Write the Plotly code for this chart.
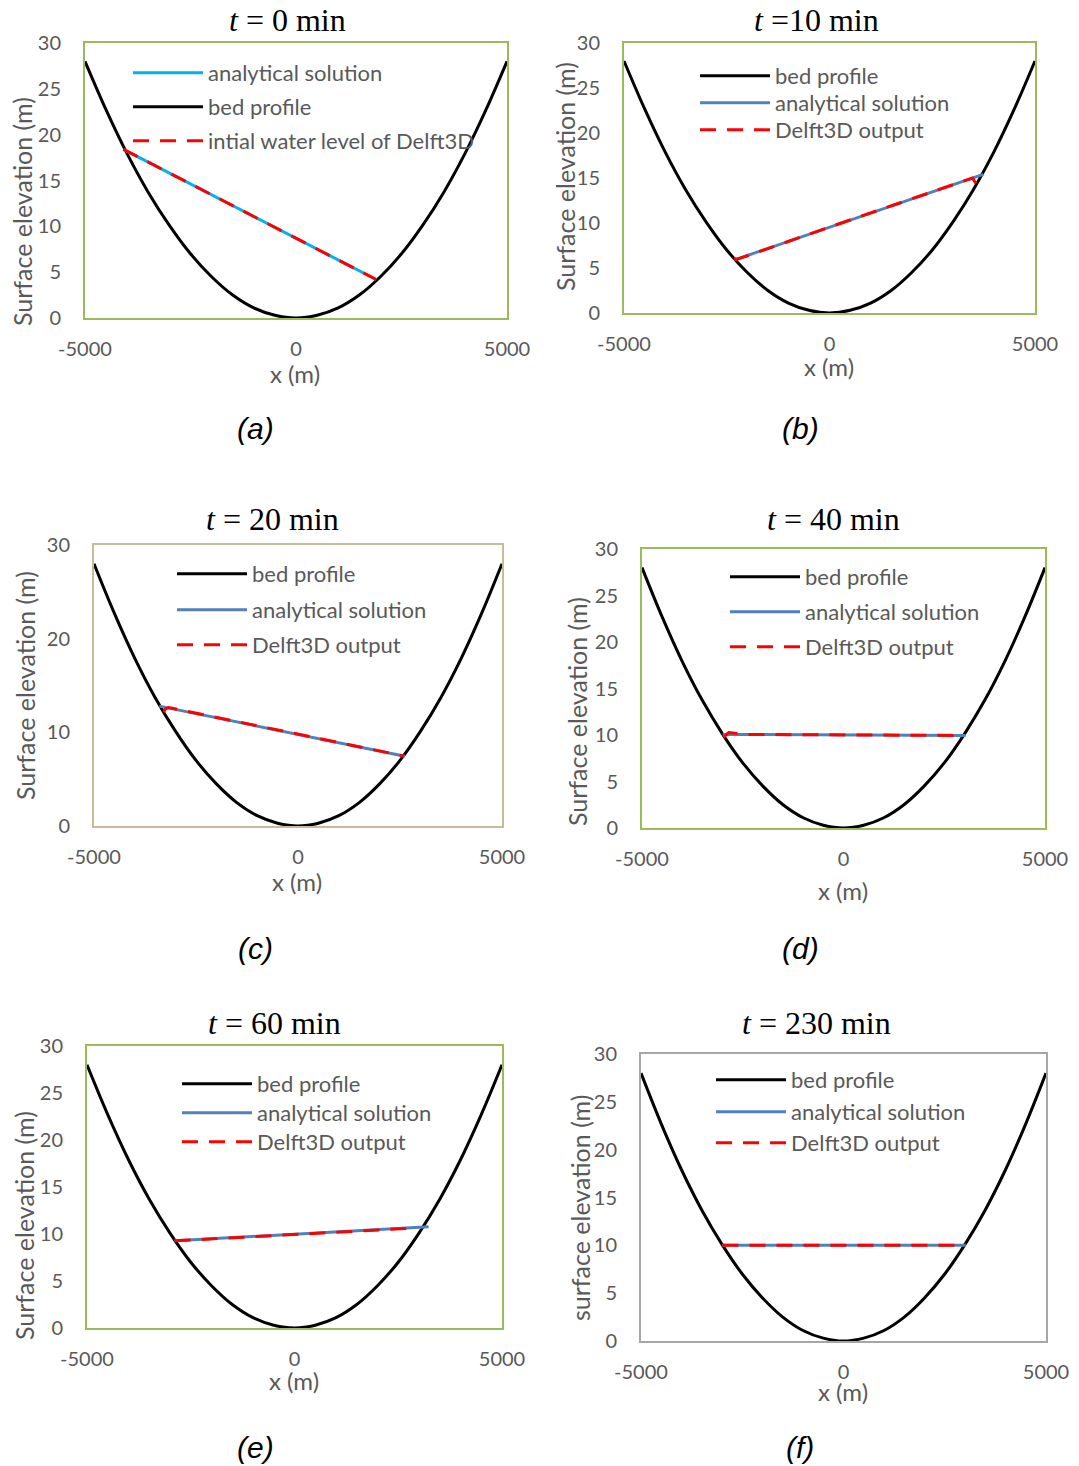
import plotly.graph_objects as go

W, H = 1079, 1466

# ---------------- data ----------------
bed_x = [-5000, -4500, -4000, -3500, -3000, -2500, -2000, -1500, -1000, -500, 0,
         500, 1000, 1500, 2000, 2500, 3000, 3500, 4000, 4500, 5000]
bed_y = [28.0, 22.7, 17.9, 13.7, 10.1, 7.0, 4.5, 2.5, 1.1, 0.3, 0.0,
         0.3, 1.1, 2.5, 4.5, 7.0, 10.1, 13.7, 17.9, 22.7, 28.0]

# panel (a) t = 0 min
ana_a_x = [-4090, 0, 1900]
ana_a_y = [18.4, 8.7, 4.2]
d3d_a_x = [-4090, 0, 1900]
d3d_a_y = [18.4, 8.7, 4.2]
# panel (b) t = 10 min
ana_b_x = [-2310, 0, 3740]
ana_b_y = [5.9, 9.55, 15.4]
d3d_b_x = [-2330, -2260, 0, 3480, 3560]
d3d_b_y = [6.1, 5.95, 9.55, 15.0, 14.4]
# panel (c) t = 20 min
ana_c_x = [-3400, 0, 2620]
ana_c_y = [12.8, 9.78, 7.45]
d3d_c_x = [-3290, -3250, -3170, 0, 2600]
d3d_c_y = [12.15, 12.5, 12.65, 9.78, 7.47]
# panel (d) t = 40 min
ana_d_x = [-3000, 0, 3030]
ana_d_y = [10.06, 10.0, 9.95]
d3d_d_x = [-2980, -2850, -2400, 0, 2930]
d3d_d_y = [9.75, 10.27, 10.06, 10.0, 9.95]
# panel (e) t = 60 min
ana_e_x = [-2890, 0, 3230]
ana_e_y = [9.27, 9.98, 10.76]
d3d_e_x = [-2890, 0, 2850]
d3d_e_y = [9.27, 9.98, 10.62]
# panel (f) t = 230 min
ana_f_x = [-2990, 0, 3020]
ana_f_y = [10.0, 10.0, 10.0]
d3d_f_x = [-2990, 0, 2900]
d3d_f_y = [10.0, 10.0, 10.0]

x_ticks = [-5000, 0, 5000]
x_tick_text = ["-5000", "0", "5000"]

titles = ["<i>t</i> = 0 min", "<i>t</i> =10 min", "<i>t</i> = 20 min",
          "<i>t</i> = 40 min", "<i>t</i> = 60 min", "<i>t</i> = 230 min"]
panel_labels = ["(a)", "(b)", "(c)", "(d)", "(e)", "(f)"]
y_titles = ["Surface elevation (m)"] * 5 + ["surface elevation (m)"]
x_title = "x (m)"

# ---------------- layout geometry (pixels) ----------------
boxes = [  # x0, x1, y0(top), y1(bottom)
    (85, 507, 43, 318),
    (624, 1035, 43, 313),
    (94, 502, 545, 826),
    (642, 1045, 549, 828),
    (87, 502, 1046, 1328),
    (641, 1046, 1054, 1341),
]
border_colors = ["#9BBB59", "#9BBB59", "#C4BD97", "#9BBB59", "#9BBB59", "#A6A6A6"]
y_dticks = [5, 5, 10, 5, 5, 5]
title_pos = [(287, 20), (816, 20), (272, 519), (833, 519), (274, 1023), (816, 1023)]
ytitle_pos = [(22, 212), (565, 177), (25, 686), (577, 712), (24, 1226), (580, 1208)]
xtitle_pos = [(295, 373), (829, 367), (297, 881), (843, 890), (294, 1380), (843, 1391)]
label_pos = [(255, 428), (800, 428), (255, 948), (800, 948), (255, 1447), (800, 1447)]
legend_key_x = [133, 700, 177, 730, 182, 716]
legend_rows_y = [(73, 107, 141), (76, 103, 130), (574, 610, 645),
                 (577, 612, 647), (1084, 1113, 1142), (1080, 1112, 1143)]

def px(x):
    return x / W

def py(y):
    return 1 - y / H

TICK_COLOR = "#595959"
FONT = "Lato"

fig = go.Figure()

panels = [
    (ana_a_x, ana_a_y, d3d_a_x, d3d_a_y, "#00B0F0", "intial water level of Delft3D"),
    (ana_b_x, ana_b_y, d3d_b_x, d3d_b_y, "#4F81BD", "Delft3D output"),
    (ana_c_x, ana_c_y, d3d_c_x, d3d_c_y, "#4F81BD", "Delft3D output"),
    (ana_d_x, ana_d_y, d3d_d_x, d3d_d_y, "#4F81BD", "Delft3D output"),
    (ana_e_x, ana_e_y, d3d_e_x, d3d_e_y, "#4F81BD", "Delft3D output"),
    (ana_f_x, ana_f_y, d3d_f_x, d3d_f_y, "#4F81BD", "Delft3D output"),
]

annotations = []
layout = {}
legend_count = 0


def new_legend(key_x, row_y):
    global legend_count
    legend_count += 1
    name = "legend" if legend_count == 1 else "legend" + str(legend_count)
    layout[name] = dict(x=px(key_x - 5), y=py(row_y), xanchor="left", yanchor="middle",
                        bgcolor="rgba(0,0,0,0)",
                        font=dict(family=FONT, size=22, color=TICK_COLOR), itemwidth=70)
    return name


for i, (ax_, ay_, dx_, dy_, acol, dname) in enumerate(panels):
    n = "" if i == 0 else str(i + 1)
    xa, ya = "x" + n, "y" + n
    rows = legend_rows_y[i]
    kx = legend_key_x[i]
    # panel a lists analytical first, others list bed first
    if i == 0:
        lg_ana, lg_bed = new_legend(kx, rows[0]), new_legend(kx, rows[1])
    else:
        lg_bed, lg_ana = new_legend(kx, rows[0]), new_legend(kx, rows[1])
    lg_d3d = new_legend(kx, rows[2])

    fig.add_trace(go.Scatter(x=bed_x, y=bed_y, mode="lines",
                             line=dict(color="black", width=3, shape="spline"),
                             name="bed profile", xaxis=xa, yaxis=ya, legend=lg_bed,
                             cliponaxis=False, hoverinfo="skip"))
    fig.add_trace(go.Scatter(x=ax_, y=ay_, mode="lines", line=dict(color=acol, width=3),
                             name="analytical solution", xaxis=xa, yaxis=ya, legend=lg_ana,
                             cliponaxis=False, hoverinfo="skip"))
    fig.add_trace(go.Scatter(x=dx_, y=dy_, mode="lines",
                             line=dict(color="#FF0000", width=3, dash="16px,11px"),
                             name=dname, xaxis=xa, yaxis=ya, legend=lg_d3d,
                             cliponaxis=False, hoverinfo="skip"))

    x0, x1, y0, y1 = boxes[i]
    axis_common = dict(showgrid=False, zeroline=False, showline=True, mirror=True,
                       linecolor=border_colors[i], linewidth=2, ticks="", automargin=False,
                       tickfont=dict(family=FONT, size=20, color=TICK_COLOR), fixedrange=True)
    layout["xaxis" + n] = dict(axis_common, domain=[px(x0), px(x1)], range=[-5000, 5000],
                               tickvals=x_ticks, ticktext=x_tick_text, anchor=ya,
                               ticklabelstandoff=12)
    layout["yaxis" + n] = dict(axis_common, domain=[py(y1), py(y0)], range=[0, 30],
                               dtick=y_dticks[i], tick0=0, anchor=xa, ticklabelstandoff=18)

    tx, ty = title_pos[i]
    annotations.append(dict(text=titles[i], x=px(tx), y=py(ty), xref="paper", yref="paper",
                            showarrow=False, xanchor="center", yanchor="middle",
                            font=dict(family="Liberation Serif", size=32, color="black")))
    yx, yy = ytitle_pos[i]
    annotations.append(dict(text=y_titles[i], x=px(yx), y=py(yy), xref="paper", yref="paper",
                            showarrow=False, xanchor="center", yanchor="middle", textangle=-90,
                            font=dict(family=FONT, size=25, color=TICK_COLOR)))
    xx, xy = xtitle_pos[i]
    annotations.append(dict(text=x_title, x=px(xx), y=py(xy), xref="paper", yref="paper",
                            showarrow=False, xanchor="center", yanchor="middle",
                            font=dict(family=FONT, size=24, color=TICK_COLOR)))
    lbx, lby = label_pos[i]
    annotations.append(dict(text="<i>" + panel_labels[i] + "</i>", x=px(lbx), y=py(lby),
                            xref="paper", yref="paper", showarrow=False,
                            xanchor="center", yanchor="middle",
                            font=dict(family="Liberation Sans", size=30, color="black")))

fig.update_layout(**layout)
fig.update_layout(template="none", width=W, height=H, margin=dict(l=0, r=0, t=0, b=0, pad=0),
                  paper_bgcolor="white", plot_bgcolor="white",
                  annotations=annotations, showlegend=True)

fig.write_html("out.html", config={"displayModeBar": False})
